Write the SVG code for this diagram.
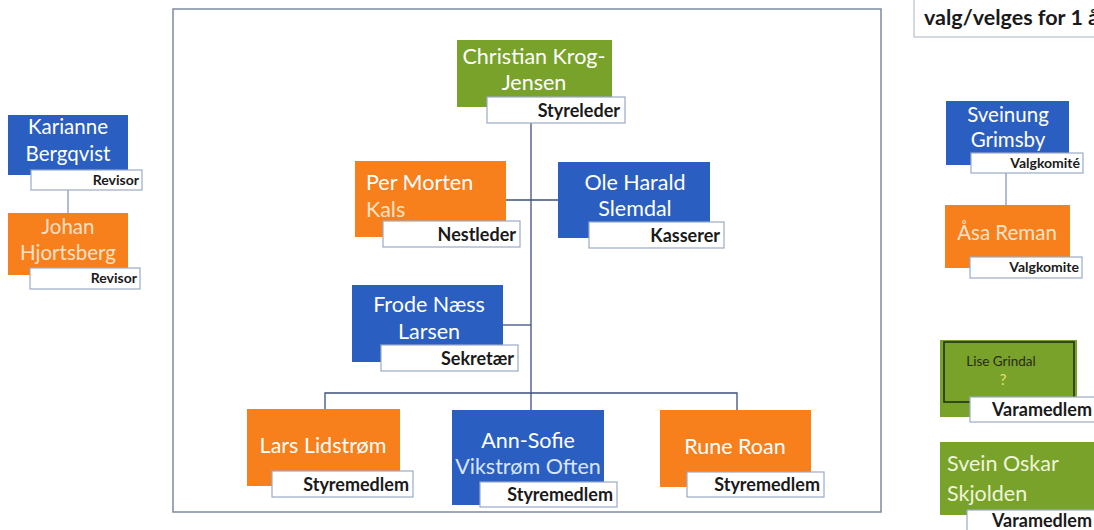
<svg xmlns="http://www.w3.org/2000/svg" width="1094" height="530" viewBox="0 0 1094 530">
<style>
.blue{fill:#2a5ec0}
.orange{fill:#f77f1c}
.green{fill:#79a22b}
.lbl{fill:#fff;stroke:#9aabc6;stroke-width:1.2}
.nm{font-family:Lato,"Open Sans",sans-serif;font-size:21.5px;fill:#fff;text-anchor:middle}
.ns{font-family:Lato,"Open Sans",sans-serif;font-size:20.5px;fill:#fff;text-anchor:middle}
.lt{font-family:Lato,"Open Sans",sans-serif;font-size:18px;font-weight:bold;fill:#1a1a1a;text-anchor:end}
.ls{font-family:Lato,"Open Sans",sans-serif;font-size:14px;font-weight:bold;fill:#1a1a1a;text-anchor:end}
.conn{stroke:#3c4f7e;stroke-width:1.3;fill:none}
</style>
<rect width="1094" height="530" fill="#fff"/>
<rect x="173" y="9" width="708" height="503" fill="#fff" stroke="#7d8aa0" stroke-width="1.5"/>
<g id="note">
<rect x="914" y="-5" width="190" height="42" fill="#fff" stroke="#b8c0cc" stroke-width="1.2"/>
<text x="924" y="25" font-family="Lato, Open Sans, sans-serif" font-size="21.5" font-weight="bold" fill="#1a1a1a">valg/velges for 1 år</text>
</g>
<g id="connectors">
<line class="conn" x1="531" y1="123" x2="531" y2="393"/>
<line class="conn" x1="505" y1="200" x2="558" y2="200"/>
<line class="conn" x1="503" y1="325" x2="531" y2="325"/>
<polyline class="conn" points="325,409 325,393 737,393 737,410"/>
<line class="conn" x1="531" y1="393" x2="531" y2="410"/>
<line x1="68" y1="190" x2="68" y2="213" stroke="#8a96b8" stroke-width="1.3"/>
<line x1="1006" y1="173" x2="1006" y2="205" stroke="#8a96b8" stroke-width="1.3"/>
</g>
<g id="christian">
<rect class="green" x="457" y="40" width="155" height="67"/>
<rect class="lbl" x="487" y="97" width="138" height="26"/>
<text class="nm" x="534" y="64">Christian Krog-</text>
<text class="nm" x="534" y="90">Jensen</text>
<text class="lt" x="620" y="117">Styreleder</text>
</g>
<g id="per">
<rect class="orange" x="355" y="161" width="151" height="76"/>
<rect class="lbl" x="383" y="221" width="137" height="26"/>
<text class="nm" x="366" y="190" style="text-anchor:start">Per Morten</text>
<text class="nm" x="366" y="217" style="text-anchor:start;fill:#fde3c8">Kals</text>
<text class="lt" x="516" y="241">Nestleder</text>
</g>
<g id="ole">
<rect class="blue" x="558" y="162" width="152" height="76"/>
<rect class="lbl" x="589" y="222" width="135" height="26"/>
<text class="nm" x="635" y="190">Ole Harald</text>
<text class="nm" x="635" y="216">Slemdal</text>
<text class="lt" x="720" y="242">Kasserer</text>
</g>
<g id="frode">
<rect class="blue" x="352" y="285" width="151" height="77"/>
<rect class="lbl" x="381" y="345" width="137" height="26"/>
<text class="nm" x="429" y="312">Frode Næss</text>
<text class="nm" x="429" y="339">Larsen</text>
<text class="lt" x="514" y="365">Sekretær</text>
</g>
<g id="lars">
<rect class="orange" x="247" y="409" width="153" height="77"/>
<rect class="lbl" x="272" y="471" width="141" height="26"/>
<text class="nm" x="323" y="453">Lars Lidstrøm</text>
<text class="lt" x="409" y="491">Styremedlem</text>
</g>
<g id="annsofie">
<rect class="blue" x="452" y="410" width="152" height="95"/>
<rect class="lbl" x="480" y="482" width="137" height="25"/>
<text class="nm" x="528" y="448">Ann-Sofie</text>
<text class="nm" x="528" y="474" style="fill:#d8e6ff">Vikstrøm Often</text>
<text class="lt" x="613" y="501">Styremedlem</text>
</g>
<g id="rune">
<rect class="orange" x="660" y="410" width="151" height="77"/>
<rect class="lbl" x="687" y="472" width="137" height="25"/>
<text class="nm" x="735" y="454">Rune Roan</text>
<text class="lt" x="820" y="491">Styremedlem</text>
</g>
<g id="karianne">
<rect class="blue" x="8" y="115" width="120" height="60"/>
<rect class="lbl" x="31" y="170" width="111" height="20"/>
<text class="ns" x="68" y="134">Karianne</text>
<text class="ns" x="68" y="161">Bergqvist</text>
<text class="ls" x="139" y="185">Revisor</text>
</g>
<g id="johan">
<rect class="orange" x="8" y="213" width="120" height="62"/>
<rect class="lbl" x="30" y="268" width="110" height="21"/>
<text class="ns" x="68" y="234" style="fill:#fde0c6">Johan</text>
<text class="ns" x="68" y="260" style="fill:#fde0c6">Hjortsberg</text>
<text class="ls" x="137" y="283">Revisor</text>
</g>
<g id="sveinung">
<rect class="blue" x="946" y="101" width="123" height="64"/>
<rect class="lbl" x="971" y="153" width="112" height="20"/>
<text class="ns" x="1008" y="122">Sveinung</text>
<text class="ns" x="1008" y="147">Grimsby</text>
<text class="ls" x="1080" y="168">Valgkomité</text>
</g>
<g id="asa">
<rect class="orange" x="945" y="205" width="125" height="63"/>
<rect class="lbl" x="970" y="257" width="112" height="21"/>
<text class="ns" x="1007" y="240" style="fill:#fde3c8">Åsa Reman</text>
<text class="ls" x="1079" y="272">Valgkomite</text>
</g>
<g id="lise">
<rect class="green" x="940" y="340" width="137" height="77"/>
<rect x="944" y="342" width="130" height="60" fill="none" stroke="#1e2a10" stroke-width="1.5"/>
<rect class="lbl" x="970" y="397" width="130" height="25"/>
<text x="1001" y="366" font-family="Lato, Open Sans, sans-serif" font-size="13.5" fill="#2a2a10" text-anchor="middle">Lise Grindal</text>
<text x="1003" y="385" font-family="Lato, Open Sans, sans-serif" font-size="15" fill="#e8e070" text-anchor="middle">?</text>
<text class="lt" x="1092" y="416">Varamedlem</text>
</g>
<g id="svein">
<rect class="green" x="940" y="442" width="160" height="73"/>
<rect class="lbl" x="967" y="510" width="133" height="25"/>
<text class="nm" x="947" y="471" style="text-anchor:start;fill:#eef5d8">Svein Oskar</text>
<text class="nm" x="947" y="501" style="text-anchor:start;fill:#eef5d8">Skjolden</text>
<text class="lt" x="1092" y="527">Varamedlem</text>
</g>
</svg>
